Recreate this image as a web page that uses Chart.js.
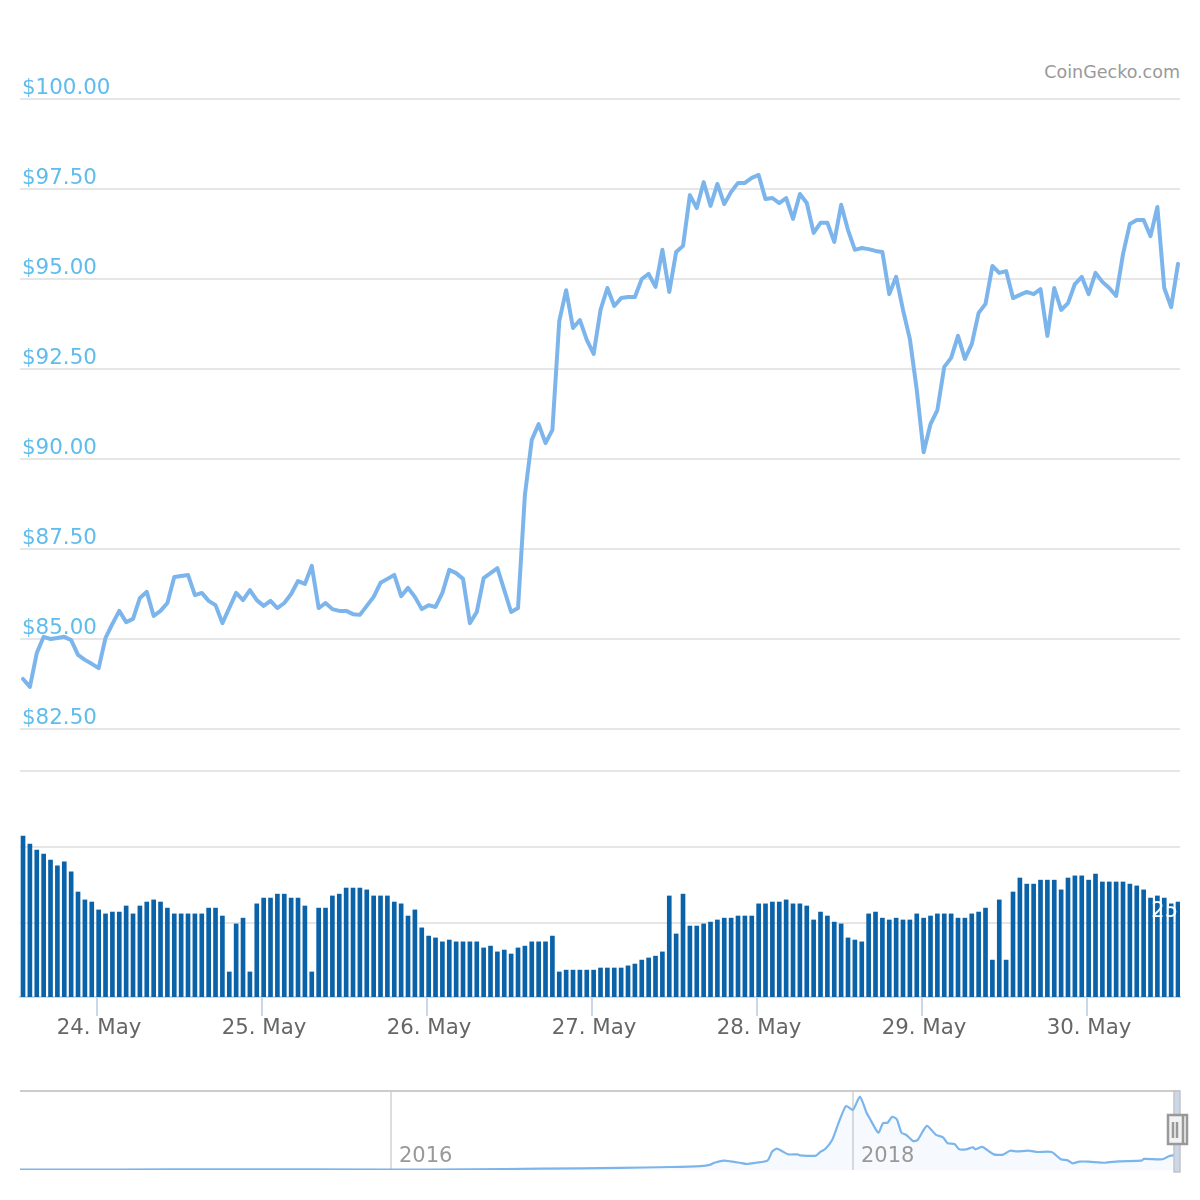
<!DOCTYPE html>
<html>
<head>
<meta charset="utf-8">
<title>Price chart</title>
<script src="https://cdn.jsdelivr.net/npm/chart.js@4"></script>
<style>
  html, body { margin: 0; padding: 0; background: #fff; }
  body { position: relative; width: 1200px; height: 1200px; overflow: hidden; }
  canvas { position: absolute; left: 0; }
  #credit { position: absolute; right: 20px; top: 62px; font: 17.5px "DejaVu Sans", sans-serif; color: #999; }
</style>
</head>
<body>
<div id="credit">CoinGecko.com</div>
<canvas id="priceChart" width="1200" height="760" style="top:0"></canvas>
<canvas id="volumeChart" width="1200" height="320" style="top:740px"></canvas>
<canvas id="navChart" width="1200" height="120" style="top:1080px"></canvas>
<script>
// hourly price in USD, from the afternoon of 23 May to 30 May
const priceValues = [
  83.89, 83.67, 84.61, 85.06, 85.00, 85.03, 85.06, 84.97, 84.56, 84.42, 84.31, 84.19, 85.03,
  85.42, 85.78, 85.47, 85.56, 86.14, 86.31, 85.64, 85.78, 86.00, 86.72, 86.75, 86.78, 86.22,
  86.28, 86.06, 85.94, 85.44, 85.86, 86.28, 86.08, 86.36, 86.08, 85.92, 86.06, 85.86, 86.00,
  86.25, 86.61, 86.53, 87.03, 85.86, 86.00, 85.83, 85.78, 85.78, 85.69, 85.67, 85.92, 86.17,
  86.56, 86.67, 86.78, 86.19, 86.42, 86.17, 85.83, 85.94, 85.89, 86.28, 86.92, 86.83, 86.67,
  85.44, 85.75, 86.69, 86.83, 86.97, 86.36, 85.75, 85.86, 89.00, 90.53, 90.97, 90.44, 90.81,
  93.83, 94.69, 93.64, 93.86, 93.31, 92.92, 94.14, 94.75, 94.25, 94.47, 94.50, 94.50, 95.00,
  95.14, 94.78, 95.81, 94.64, 95.75, 95.92, 97.33, 96.97, 97.69, 97.03, 97.64, 97.08, 97.42,
  97.67, 97.67, 97.81, 97.89, 97.22, 97.25, 97.11, 97.25, 96.67, 97.36, 97.11, 96.28, 96.56,
  96.56, 96.03, 97.06, 96.36, 95.81, 95.86, 95.83, 95.78, 95.75, 94.58, 95.06, 94.14, 93.33,
  91.92, 90.19, 90.97, 91.36, 92.56, 92.81, 93.42, 92.78, 93.19, 94.06, 94.31, 95.36, 95.17,
  95.22, 94.47, 94.56, 94.64, 94.58, 94.72, 93.42, 94.75, 94.14, 94.33, 94.86, 95.06, 94.58,
  95.17, 94.92, 94.75, 94.53, 95.69, 96.53, 96.64, 96.64, 96.19, 97.00, 94.75, 94.22, 95.42
];

// hourly volume, in the units of the hidden volume axis
const volumeValues = [
  53.6, 51.0, 49.0, 47.7, 45.7, 43.8, 45.1, 41.8, 35.2, 32.6, 31.9, 29.3, 28.0,
  28.6, 28.6, 30.6, 28.0, 30.6, 31.9, 32.6, 31.9, 29.9, 28.0, 28.0, 28.0, 28.0,
  28.0, 29.9, 29.9, 27.3, 8.9, 24.7, 26.6, 8.9, 31.3, 33.2, 33.2, 34.5, 34.5,
  33.2, 33.2, 30.6, 8.9, 29.9, 29.9, 33.9, 34.5, 36.5, 36.5, 36.5, 35.9, 33.9,
  33.9, 33.9, 31.9, 31.3, 27.3, 29.3, 23.4, 20.7, 20.1, 18.8, 19.4, 18.8, 18.8,
  18.8, 18.8, 16.8, 17.4, 15.5, 16.1, 14.8, 16.8, 17.4, 18.8, 18.8, 18.8, 20.7,
  8.9, 9.5, 9.5, 9.5, 9.5, 9.5, 10.2, 10.2, 10.2, 10.2, 10.9, 11.5, 12.8,
  13.5, 14.1, 15.5, 33.9, 21.4, 34.5, 24.0, 24.0, 24.7, 25.3, 26.0, 26.6, 26.6,
  27.3, 27.3, 27.3, 31.3, 31.3, 31.9, 31.9, 32.6, 31.3, 31.3, 30.6, 26.0, 28.6,
  27.3, 25.3, 24.7, 20.1, 19.4, 18.8, 28.0, 28.6, 26.6, 26.0, 26.6, 26.0, 26.0,
  28.0, 26.6, 27.3, 28.0, 28.0, 28.0, 26.6, 26.6, 28.0, 28.6, 29.9, 12.8, 32.6,
  12.8, 35.2, 39.8, 37.8, 37.8, 39.1, 39.1, 39.1, 35.9, 39.8, 40.5, 40.5, 39.1,
  41.1, 38.5, 38.5, 38.5, 38.5, 37.8, 37.2, 35.9, 33.2, 33.9, 33.2, 31.3, 31.9
];

// hours are counted from midnight at the start of 24 May
const firstHour = -10.76;
const hourMin = -11.2;
const hourMax = 157.53;
const dayTicks = [0, 24, 48, 72, 96, 120, 144];
const dayLabels = ['24. May', '25. May', '26. May', '27. May', '28. May', '29. May', '30. May'];

const priceTickStep = 2.5;
const volumeTicks = [25, 50, 75];

// navigator: whole price history, year as a decimal
const navYears = [
  2014.39, 2014.83, 2015.26, 2016.00, 2016.34, 2016.65, 2016.99, 2017.21, 2017.34, 2017.38,
  2017.40, 2017.44, 2017.47, 2017.51, 2017.54, 2017.58, 2017.63, 2017.65, 2017.67, 2017.69,
  2017.72, 2017.76, 2017.77, 2017.84, 2017.86, 2017.88, 2017.91, 2017.94, 2017.97, 2018.00,
  2018.03, 2018.06, 2018.07, 2018.11, 2018.13, 2018.15, 2018.17, 2018.19, 2018.21, 2018.23,
  2018.26, 2018.28, 2018.32, 2018.36, 2018.39, 2018.41, 2018.44, 2018.46, 2018.49, 2018.52,
  2018.53, 2018.56, 2018.61, 2018.65, 2018.68, 2018.71, 2018.76, 2018.80, 2018.86, 2018.90,
  2018.93, 2018.95, 2018.98, 2019.02, 2019.09, 2019.15, 2019.25, 2019.26, 2019.34, 2019.37,
  2019.40
];
const navPrices = [
  3, 3, 4, 3, 4, 9, 13, 19, 25, 32,
  46, 59, 55, 46, 38, 46, 59, 116, 135, 122,
  99, 99, 93, 91, 116, 133, 190, 306, 405, 380,
  464, 359, 334, 236, 296, 299, 337, 321, 236, 223,
  184, 190, 279, 222, 207, 169, 165, 131, 131, 144,
  131, 146, 99, 97, 122, 118, 122, 114, 114, 68,
  61, 42, 53, 53, 46, 55, 59, 70, 68, 89,
  95
];
const navYearTicks = [2016, 2018];
const navYearMin = 2014.394;
const navYearMax = 2019.416;
const navWindowStart = 2019.39;
const navWindowEnd = 2019.416;

const fontName = '"DejaVu Sans", sans-serif';
const priceLabelColor = '#5fbcec';
const lineColor = '#7cb5ec';
const barColor = '#0a62a8';
const gridColor = '#e6e6e6';
const axisColor = '#ccd6eb';

const hours = priceValues.map((v, i) => firstHour + i);

const baseOptions = {
  responsive: false,
  animation: false,
  plugins: { legend: { display: false }, tooltip: { enabled: false } }
};

new Chart(document.getElementById('priceChart'), {
  type: 'line',
  data: {
    datasets: [{
      data: priceValues.map((v, i) => ({ x: hours[i], y: v })),
      borderColor: lineColor,
      borderWidth: 4,
      pointRadius: 0,
      tension: 0,
      borderJoinStyle: 'round',
      borderCapStyle: 'round'
    }]
  },
  options: {
    ...baseOptions,
    layout: { padding: { left: 20, right: 20, top: 99, bottom: 31 } },
    scales: {
      x: { type: 'linear', display: false, min: hourMin, max: hourMax },
      y: {
        min: 82.5,
        max: 100,
        afterFit: scale => { scale.width = 0; },
        border: { display: false },
        grid: { color: gridColor, lineWidth: 2, drawTicks: false },
        ticks: {
          stepSize: priceTickStep,
          mirror: true,
          padding: 2,
          labelOffset: -10.5,
          z: 1,
          color: priceLabelColor,
          font: { family: fontName, size: 21.4 },
          callback: value => '$' + value.toFixed(2)
        }
      }
    }
  }
});

new Chart(document.getElementById('volumeChart'), {
  type: 'bar',
  data: {
    datasets: [{
      data: volumeValues.map((v, i) => ({ x: hours[i], y: v })),
      backgroundColor: barColor,
      barThickness: 4
    }]
  },
  options: {
    ...baseOptions,
    layout: { padding: { left: 20, right: 20, top: 31, bottom: 0 } },
    scales: {
      x: {
        type: 'linear',
        offset: false,
        min: hourMin,
        max: hourMax,
        afterBuildTicks: scale => { scale.ticks = dayTicks.map(v => ({ value: v })); },
        afterFit: scale => { scale.height = 63; },
        border: { color: axisColor, width: 2 },
        grid: { offset: false, drawOnChartArea: false, color: axisColor, lineWidth: 2, tickLength: 19 },
        ticks: {
          autoSkip: false,
          maxRotation: 0,
          padding: 0,
          labelOffset: 2,
          color: '#666',
          font: { family: fontName, size: 21.3 },
          callback: value => dayLabels[dayTicks.indexOf(value)]
        }
      },
      y: {
        position: 'right',
        min: 0.66,
        max: 75,
        afterBuildTicks: scale => { scale.ticks = volumeTicks.map(v => ({ value: v })); },
        afterFit: scale => { scale.width = 0; },
        border: { display: false },
        grid: { color: gridColor, lineWidth: 2, drawTicks: false },
        ticks: {
          mirror: true,
          padding: -2,
          labelOffset: -11,
          z: 1,
          color: '#fff',
          font: { family: fontName, size: 21 },
          callback: value => (value === 25 ? '25' : '')
        }
      }
    }
  }
});

// range band and drag handle at the right end of the navigator
const navHandle = {
  id: 'navHandle',
  afterDraw(chart) {
    const { ctx, scales: { x }, chartArea } = chart;
    const left = x.getPixelForValue(navWindowStart);
    const right = x.getPixelForValue(navWindowEnd);
    const mid = right - 1;
    ctx.save();
    ctx.fillStyle = axisColor;
    ctx.fillRect(left, chartArea.top, right - left, chartArea.bottom - chartArea.top + 2);
    ctx.strokeStyle = '#c4c4c4';
    ctx.lineWidth = 1.5;
    ctx.strokeRect(left, chartArea.top, right - left, chartArea.bottom - chartArea.top + 2);
    ctx.fillStyle = '#f2f2f2';
    ctx.strokeStyle = '#999';
    ctx.lineWidth = 2.5;
    ctx.fillRect(mid - 11, chartArea.top + 24, 19, 29);
    ctx.strokeRect(mid - 11, chartArea.top + 24, 19, 29);
    ctx.beginPath();
    ctx.moveTo(mid + 4, chartArea.top + 24);
    ctx.lineTo(mid + 4, chartArea.top + 53);
    ctx.moveTo(mid - 6, chartArea.top + 31);
    ctx.lineTo(mid - 6, chartArea.top + 47);
    ctx.moveTo(mid - 2, chartArea.top + 31);
    ctx.lineTo(mid - 2, chartArea.top + 47);
    ctx.stroke();
    ctx.restore();
  }
};

new Chart(document.getElementById('navChart'), {
  type: 'line',
  data: {
    datasets: [{
      data: navPrices.map((v, i) => ({ x: navYears[i], y: v })),
      borderColor: lineColor,
      borderWidth: 2.2,
      backgroundColor: 'rgba(124, 181, 236, 0.07)',
      fill: 'origin',
      pointRadius: 0,
      tension: 0.2
    }]
  },
  plugins: [navHandle],
  options: {
    ...baseOptions,
    layout: { padding: { left: 20, right: 20, top: 11, bottom: 30 } },
    scales: {
      x: {
        type: 'linear',
        min: navYearMin,
        max: navYearMax,
        afterBuildTicks: scale => { scale.ticks = navYearTicks.map(v => ({ value: v })); },
        afterFit: scale => { scale.height = 0; },
        border: { display: false },
        grid: { color: '#ddd', lineWidth: 2, drawTicks: false },
        ticks: {
          autoSkip: false,
          maxRotation: 0,
          mirror: true,
          align: 'start',
          labelOffset: 8,
          padding: 1,
          z: 1,
          color: '#999',
          font: { family: fontName, size: 21 },
          callback: value => String(value)
        }
      },
      y: {
        min: 0,
        max: 500,
        afterBuildTicks: scale => { scale.ticks = [{ value: 500 }]; },
        border: { display: false },
        grid: { color: '#ccc', lineWidth: 2, drawTicks: false },
        ticks: { display: false }
      }
    }
  }
});
</script>
</body>
</html>
